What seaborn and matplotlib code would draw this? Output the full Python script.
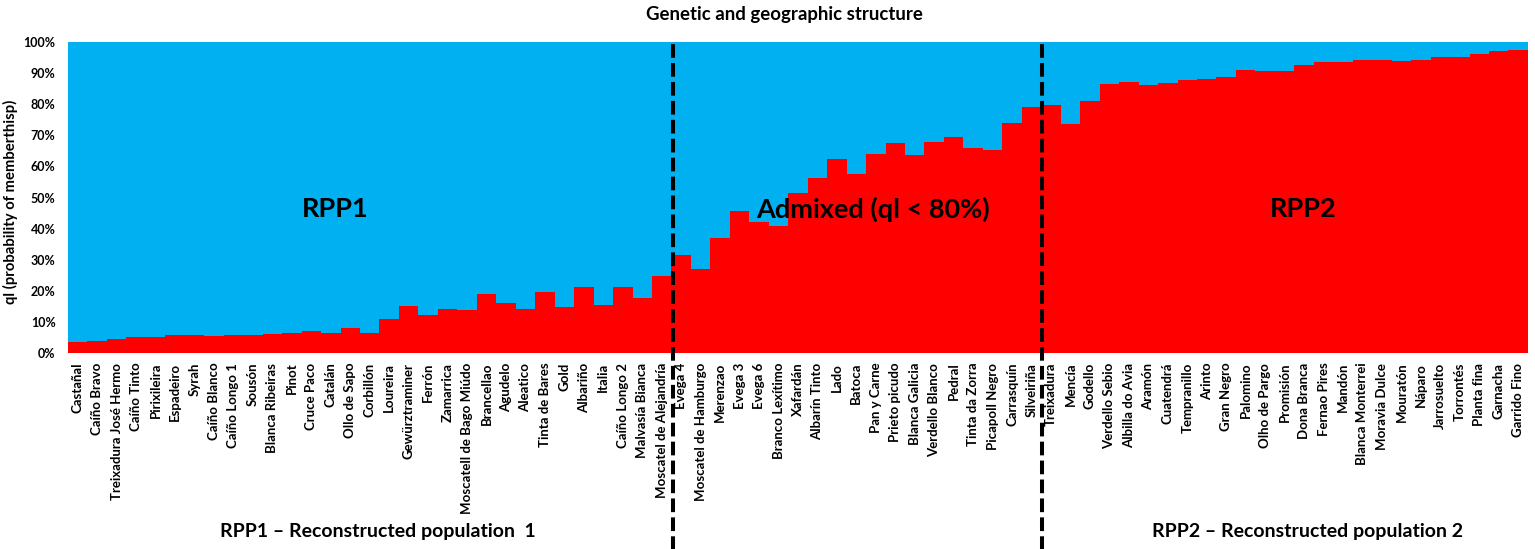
import matplotlib
matplotlib.use('Agg')
import matplotlib.pyplot as plt
import seaborn as sns
import pandas as pd

# varieties grouped by reconstructed population, with ql for RPP2 (red share, %)
rpp1_names = ['Castañal', 'Caíño Bravo', 'Treixadura José Hermo', 'Caíño Tinto', 'Pirixileira',
              'Espadeiro', 'Syrah', 'Caíño Blanco', 'Caíño Longo 1', 'Sousón', 'Blanca Ribeiras',
              'Pinot', 'Cruce Paco', 'Catalán', 'Ollo de Sapo', 'Corbillón', 'Loureira',
              'Gewürztraminer', 'Ferrón', 'Zamarrica', 'Moscatell de Bago Miúdo', 'Brancellao',
              'Agudelo', 'Aleatico', 'Tinta de Bares', 'Gold', 'Albariño', 'Italia',
              'Caíño Longo 2', 'Malvasía Bianca', 'Moscatel de Alejandría']
rpp1_ql = [3.6, 3.8, 4.6, 5.0, 5.3, 5.7, 5.7, 5.5, 5.9, 5.9, 6.0, 6.5, 7.0, 6.3, 8.2, 6.3, 10.9,
           15.2, 12.3, 14.1, 13.9, 19.0, 16.2, 14.3, 19.5, 14.9, 21.1, 15.5, 21.2, 17.8, 24.7]

admixed_names = ['Evega 4', 'Moscatel de Hamburgo', 'Merenzao', 'Evega 3', 'Evega 6',
                 'Branco Lexítimo', 'Xafardán', 'Albarín Tinto', 'Lado', 'Batoca', 'Pan y Carne',
                 'Prieto picudo', 'Blanca Galicia', 'Verdello Blanco', 'Pedral', 'Tinta da Zorra',
                 'Picapoll Negro', 'Carrasquín', 'Silveiriña']
admixed_ql = [31.6, 27.0, 36.9, 45.8, 42.2, 40.8, 51.4, 56.2, 62.3, 57.6, 63.9, 67.6, 63.7,
              67.9, 69.4, 66.0, 65.3, 74.1, 79.0]

rpp2_names = ['Treixadura', 'Mencía', 'Godello', 'Verdello Sebio', 'Albilla do Avia', 'Aramón',
              'Cuatendrá', 'Tempranillo', 'Arinto', 'Gran Negro', 'Palomino', 'Olho de Pargo',
              'Promisión', 'Dona Branca', 'Fernao Pires', 'Mandón', 'Blanca Monterrei',
              'Moravia Dulce', 'Mouratón', 'Náparo', 'Jarrosuelto', 'Torrontés', 'Planta fina',
              'Garnacha', 'Garrido Fino']
rpp2_ql = [79.6, 73.6, 80.9, 86.4, 87.0, 86.2, 86.7, 87.8, 88.2, 88.8, 91.0, 90.8, 90.8, 92.5,
           93.7, 93.6, 94.1, 94.2, 93.9, 94.1, 95.1, 95.2, 96.0, 97.1, 97.3]

names = rpp1_names + admixed_names + rpp2_names
red = rpp1_ql + admixed_ql + rpp2_ql
df = pd.DataFrame({'variety': names, 'rpp2': red})
df['rpp1'] = 100 - df['rpp2']
df['total'] = df['rpp1'] + df['rpp2']

sns.set_theme(style='white')
plt.rcParams['font.family'] = ['Lato', 'DejaVu Sans']
plt.rcParams['text.color'] = 'black'
plt.rcParams['axes.labelcolor'] = 'black'
plt.rcParams['xtick.color'] = 'black'
plt.rcParams['ytick.color'] = 'black'

fig, ax = plt.subplots(figsize=(15.35, 5.49), dpi=100)
fig.subplots_adjust(left=0.0443, right=0.9954, top=0.9235, bottom=0.357)

# blue = full column, red drawn on top
sns.barplot(data=df, x='variety', y='total', color='#00B0F0', width=1, saturation=1,
            linewidth=0, errorbar=None, ax=ax)
sns.barplot(data=df, x='variety', y='rpp2', color='#FF0000', width=1, saturation=1,
            linewidth=0, errorbar=None, ax=ax)

ax.set_xlim(-0.5, len(names) - 0.5)
ax.set_ylim(0, 100)
ax.set_yticks(range(0, 101, 10))
ax.set_yticklabels([f'{v}%' for v in range(0, 101, 10)], fontsize=9, fontweight='bold')
ax.set_xticks(range(len(names)))
ax.set_xticklabels(names, rotation=90, fontsize=9.5, fontweight='bold')
ax.tick_params(axis='x', length=0, pad=7)
ax.tick_params(axis='y', length=0, pad=9)
for s in ax.spines.values():
    s.set_visible(False)
ax.set_xlabel('')
ax.set_ylabel('ql (probability of memberthisp)', fontsize=10.7, fontweight='bold')
ax.yaxis.set_label_coords(-0.034, 0.486)

# group separators
for xv in [30.6, 49.55]:
    ax.axvline(xv, ymin=-0.64, ymax=1.0, color='black', lw=2.9, dashes=(3.4, 1.3), clip_on=False)

ax.text(13.25, 46.3, 'RPP1', ha='center', va='center', fontsize=19.5, fontweight='bold')
ax.text(40.85, 46.3, 'Admixed (ql < 80%)', ha='center', va='center', fontsize=19.5, fontweight='bold')
ax.text(62.98, 46.3, 'RPP2', ha='center', va='center', fontsize=19.5, fontweight='bold')

fig.text(0.511, 0.973, 'Genetic and geographic structure', ha='center', va='center',
         fontsize=13.4, fontweight='bold')
fig.text(0.246, 0.031, 'RPP1 – Reconstructed population  1', ha='center', va='center',
         fontsize=14, fontweight='bold')
fig.text(0.8515, 0.031, 'RPP2 – Reconstructed population 2', ha='center', va='center',
         fontsize=14, fontweight='bold')

plt.savefig('out.png', dpi=100)
